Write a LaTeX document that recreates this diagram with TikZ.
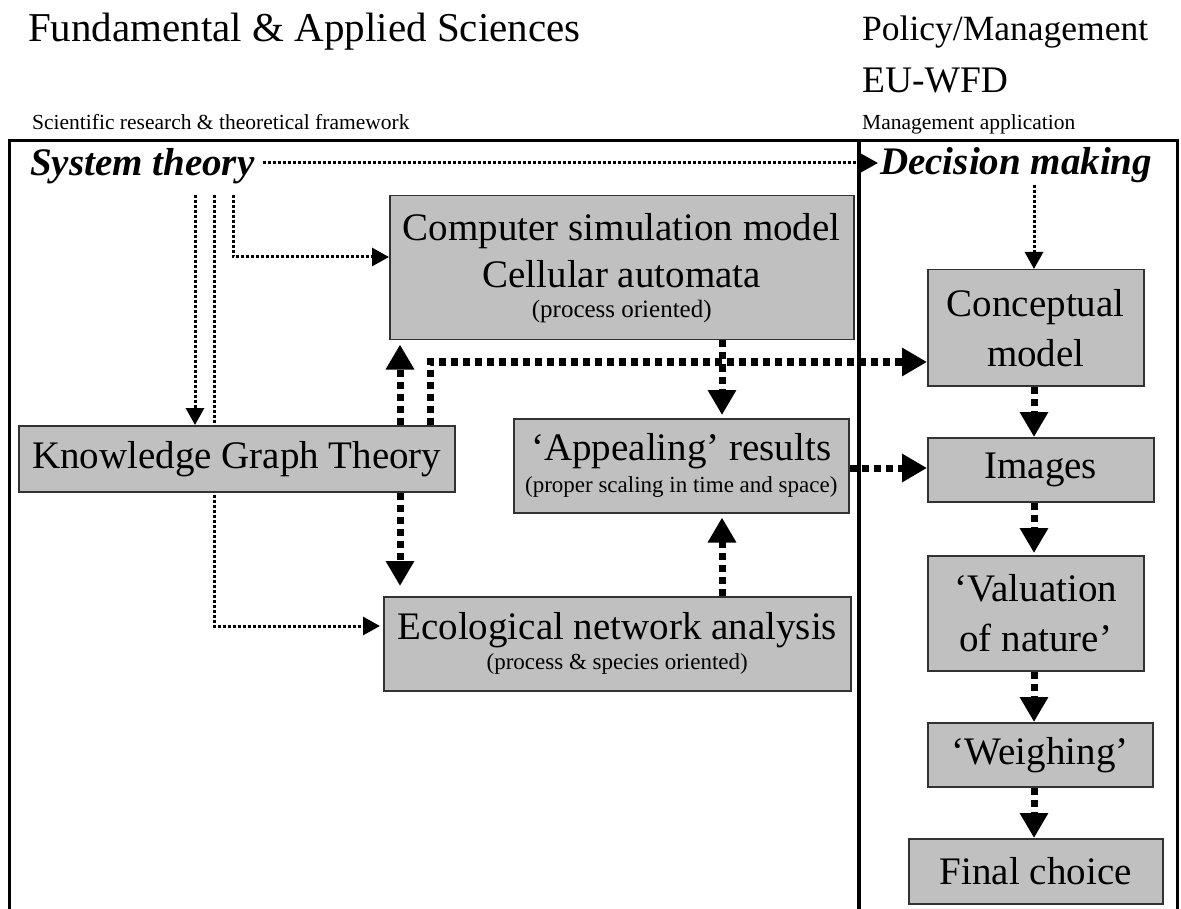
\documentclass[tikz,border=0pt]{standalone}
\usepackage{fontspec}
\setmainfont{Liberation Serif}
\usetikzlibrary{arrows.meta,backgrounds,calc}
\definecolor{boxgray}{RGB}{192,192,192}
\definecolor{boxedge}{RGB}{50,50,50}
\newcommand\fs[2]{\fontsize{#1}{#2}\selectfont}
% use the font's own interword spacing inside wrapped node text
\newcommand\plainspaces{\spaceskip=0pt\xspaceskip=0pt\relax}
% one rigid line of box text
\newcommand\boxline[1]{\mbox{#1}\par}
\begin{document}
\begin{tikzpicture}[x=1pt,y=-1pt,
  box/.style={draw=boxedge, line width=1.5pt, fill=boxgray, inner sep=0pt,
    anchor=north west, align=center},
  head/.style={anchor=base west, inner sep=0pt},
  title/.style={anchor=base west, font=\bfseries\itshape\fs{39}{47}},
  lite/.style={line width=3pt, dash pattern=on 3pt off 2pt},
  liteArrow/.style={lite, -{Triangle[length=17pt,width=18pt]}},
  heavy/.style={line width=7pt, dash pattern=on 7pt off 5pt},
  heavyArrow/.style={heavy, -{Triangle[length=25pt,width=27pt]}},
]
\useasboundingbox (0,0) rectangle (1181,909);

% column headings
\node[head, font=\fs{41}{48}] (fas) at (28,42) {Fundamental \& Applied Sciences};
\node[head, font=\fs{35.5}{42}] (pol) at (862,41) {Policy/Management};
\node[head, font=\fs{37.5}{45}] (wfd) at (862,93) {EU-WFD};
\node[head, font=\fs{21.5}{25}] (sci) at (32,130) {Scientific research \& theoretical framework};
\node[head, font=\fs{21.5}{25}] (mga) at (862,130) {Management application};

% frame and column divider
\draw[line width=3pt] (9,909) -- (9,141) -- (1177,141) -- (1177,909);
\draw[line width=4pt] (859,141) -- (859,909);

% column titles
\node[title, inner xsep=8pt, inner ysep=10pt] (sys) at (22,176) {System theory};
\node[title, inner xsep=2pt, inner ysep=1.5pt] (dec) at (878,175) {Decision making};

% science column
\node[box, minimum width=464pt, minimum height=144pt, text width=464pt] (csm) at (389,195)
  {\plainspaces\fs{39}{47}\boxline{Computer simulation model}\boxline{Cellular automata}%
   \fs{25}{30}\boxline{(process oriented)}};
\node[box, minimum width=436pt, minimum height=66pt, font=\fs{39}{47}] (kgt) at (18,425)
  {Knowledge Graph Theory};
\node[box, minimum width=335pt, minimum height=94pt, text width=335pt] (app) at (513,418)
  {\plainspaces\fs{39}{47}\boxline{‘Appealing’ results}%
   \fs{23}{32}\boxline{(proper scaling in time and space)}};
\node[box, minimum width=467pt, minimum height=94pt, text width=467pt] (eco) at (383,596)
  {\plainspaces\fs{39}{47}\boxline{Ecological network analysis}%
   \fs{23}{30}\boxline{(process \& species oriented)}};

% management column
\node[box, minimum width=216pt, minimum height=116pt, text width=216pt] (con) at (927,269)
  {\plainspaces\fs{39}{50}\boxline{Conceptual}\boxline{model}};
\node[box, minimum width=226pt, minimum height=64pt, font=\fs{39}{47}] (img) at (927,437) {Images};
\node[box, minimum width=216pt, minimum height=115pt, text width=216pt] (val) at (927,555)
  {\plainspaces\fs{39}{50}\boxline{‘Valuation}\boxline{of nature’}};
\node[box, minimum width=225pt, minimum height=64pt, font=\fs{39}{47}] (wei) at (927,722) {‘Weighing’};
\node[box, minimum width=254pt, minimum height=65pt, font=\fs{39}{47}] (fin) at (908,838) {Final choice};

% guide positions for the connectors
\coordinate (xa) at (195,0);
\coordinate (xb) at (214,0);
\coordinate (xc) at (233,0);
\coordinate (xd) at (400,0);
\coordinate (xe) at (430,0);
\coordinate (xf) at (722,0);
\coordinate (xr) at (1034,0);
\coordinate (ya) at (0,163);
\coordinate (yb) at (0,257);
\coordinate (yc) at (0,626);
\coordinate (yd) at (0,362);
\coordinate (ye) at (0,468);

\begin{pgfonlayer}{background}
  % light dotted links
  \draw[liteArrow] (sys.east |- ya) -- (dec.west |- ya);
  \draw[liteArrow] (sys.south -| xa) -- (kgt.north -| xa);
  \draw[liteArrow, shorten >=3pt] (sys.south -| xb) |- (eco.west |- yc);
  \draw[liteArrow] (sys.south -| xc) |- (csm.west |- yb);
  \draw[liteArrow] (dec.south -| xr) -- (con.north -| xr);
  % heavy dotted links
  \draw[heavyArrow, shorten >=4pt] (kgt.north -| xd) -- (csm.south -| xd);
  \draw[heavyArrow, shorten >=10pt] (kgt.south -| xd) -- (eco.north -| xd);
  \draw[heavyArrow] (kgt.north -| xe) |- (con.west |- yd);
  \draw[heavyArrow, shorten >=3pt] (csm.south -| xf) -- (app.north -| xf);
  \draw[heavyArrow, shorten >=4pt] (eco.north -| xf) -- (app.south -| xf);
  \draw[heavyArrow] (app.east |- ye) -- (img.west |- ye);
  \draw[heavyArrow] (con.south -| xr) -- (img.north -| xr);
  \draw[heavyArrow, shorten >=2pt] (img.south -| xr) -- (val.north -| xr);
  \draw[heavyArrow] (val.south -| xr) -- (wei.north -| xr);
  \draw[heavyArrow] (wei.south -| xr) -- (fin.north -| xr);
\end{pgfonlayer}
\end{tikzpicture}
\end{document}
